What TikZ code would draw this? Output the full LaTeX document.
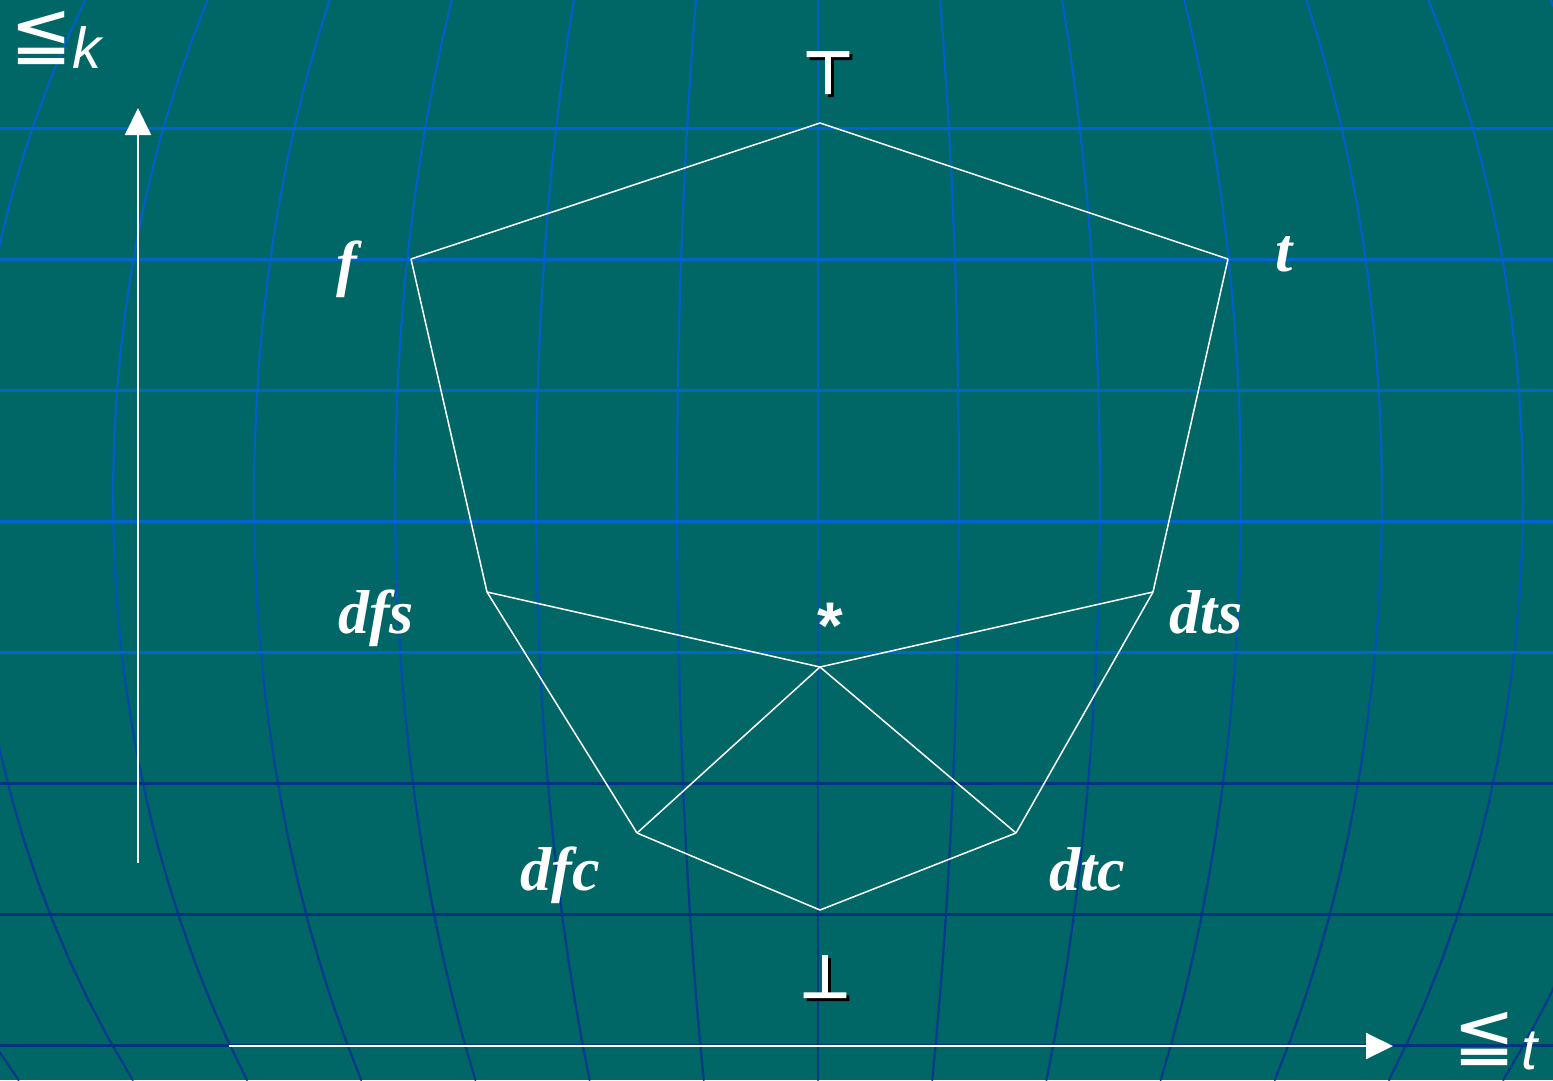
\documentclass[tikz,border=0pt]{standalone}
\usepackage{fontspec}
\setmainfont{Liberation Serif}
\newfontfamily\symfont{DejaVu Sans}
\newfontfamily\symbold[FakeBold=4]{DejaVu Sans}
\newfontfamily\arialfont{Liberation Sans}
\usetikzlibrary{arrows.meta}
\definecolor{bgteal}{RGB}{0,102,102}
\definecolor{gridhi}{RGB}{0,102,204}
\definecolor{gridlo}{RGB}{0,51,128}
\definecolor{merhi}{RGB}{0,96,200}
\definecolor{merlo}{RGB}{0,56,140}
\tikzset{
  edge/.style={draw=white, line width=1.5pt},
  vlabel/.style={text=white, font=\fontsize{62}{62}\selectfont\bfseries\itshape, anchor=base, inner sep=0pt},
  symlab/.style={font=\symbold\fontsize{58}{58}\selectfont, anchor=base, inner sep=0pt},
  axisarrow/.style={draw=white, line width=2pt, -{Triangle[length=27pt,width=26pt]}},
  axislab/.style={text=white, anchor=base west, inner sep=0pt},
  hline/.style={line width=3pt},
}
\newcommand{\leqqsym}{\raisebox{10pt}[\height][0pt]{\symfont\fontsize{74}{74}\selectfont ≦}}
\newcommand{\axisletter}[1]{{\arialfont\itshape\fontsize{58}{58}\selectfont #1}}
\begin{document}
\begin{tikzpicture}[x=1pt,y=-1pt]
\fill[bgteal] (0,0) rectangle (1553,1080);
\useasboundingbox (0,0) rectangle (1553,1080);
\begin{scope}
\clip (0,0) rectangle (1553,1080);
% meridians
\foreach \i in {-7,...,7}{
  \foreach \k in {0,...,26}{
    \pgfmathsetmacro\ya{\k*40}
    \pgfmathsetmacro\yb{\k*40+40}
    \pgfmathsetmacro\xa{818+\i*141*sqrt(1-((\ya-497)/994)^2)}
    \pgfmathsetmacro\xb{818+\i*141*sqrt(1-((\yb-497)/994)^2)}
    \pgfmathtruncatemacro\p{min(100,max(0,(860-\ya)/4))}
    \draw[draw=merhi!\p!merlo, line width=2.2pt, line cap=round] (\xa,\ya) -- (\xb,\yb);
  }
}
% parallels
\foreach \y in {128,259,390,521,652} \draw[gridhi, hline] (0,\y) -- (1553,\y);
\foreach \y in {783,914,1045} \draw[gridlo, hline] (0,\y) -- (1553,\y);
\end{scope}

% lattice vertices
\coordinate (top) at (820,123);
\coordinate (f) at (411,259);
\coordinate (t) at (1228,259);
\coordinate (dfs) at (487,592);
\coordinate (dts) at (1153,592);
\coordinate (star) at (820,667);
\coordinate (dfc) at (637,833);
\coordinate (dtc) at (1016,833);
\coordinate (bot) at (820,910);

\draw[edge] (top) -- (f);
\draw[edge] (top) -- (t);
\draw[edge] (f) -- (dfs);
\draw[edge] (t) -- (dts);
\draw[edge] (dfs) -- (star);
\draw[edge] (dts) -- (star);
\draw[edge] (dfs) -- (dfc);
\draw[edge] (dts) -- (dtc);
\draw[edge] (star) -- (dfc);
\draw[edge] (star) -- (dtc);
\draw[edge] (dfc) -- (bot);
\draw[edge] (dtc) -- (bot);

% axes
\coordinate (kstart) at (138,863);
\coordinate (kend) at (138,108);
\coordinate (tstart) at (229,1046);
\coordinate (tend) at (1393,1046);
\draw[axisarrow] (kstart) -- (kend);
\draw[axisarrow] (tstart) -- (tend);

% labels
\node[symlab, text=black] (topshadow) at (831,96) {⊤};
\node[symlab, text=white] (toplabel) at (828,93) {⊤};
\node[symlab, text=black] (botshadow) at (828,1000) {⊥};
\node[symlab, text=white] (botlabel) at (825,997) {⊥};
\node[vlabel] (flabel) at (347,284) {f};
\node[vlabel] (tlabel) at (1284,271) {t};
\node[vlabel] (dfslabel) at (376,633) {dfs};
\node[vlabel] (dtslabel) at (1206,633) {dts};
\node[vlabel] (dfclabel) at (560,890) {dfc};
\node[vlabel] (dtclabel) at (1087,890) {dtc};
\node[text=white, font=\arialfont\bfseries\fontsize{66}{66}\selectfont, anchor=base, inner sep=0pt] (starlabel) at (830,648) {*};
\node[axislab] (klabel) at (10,68) {\leqqsym\axisletter{k}};
\node[axislab] (tlab) at (1453,1069) {\leqqsym\hspace{6pt}\axisletter{t}};
\end{tikzpicture}
\end{document}
